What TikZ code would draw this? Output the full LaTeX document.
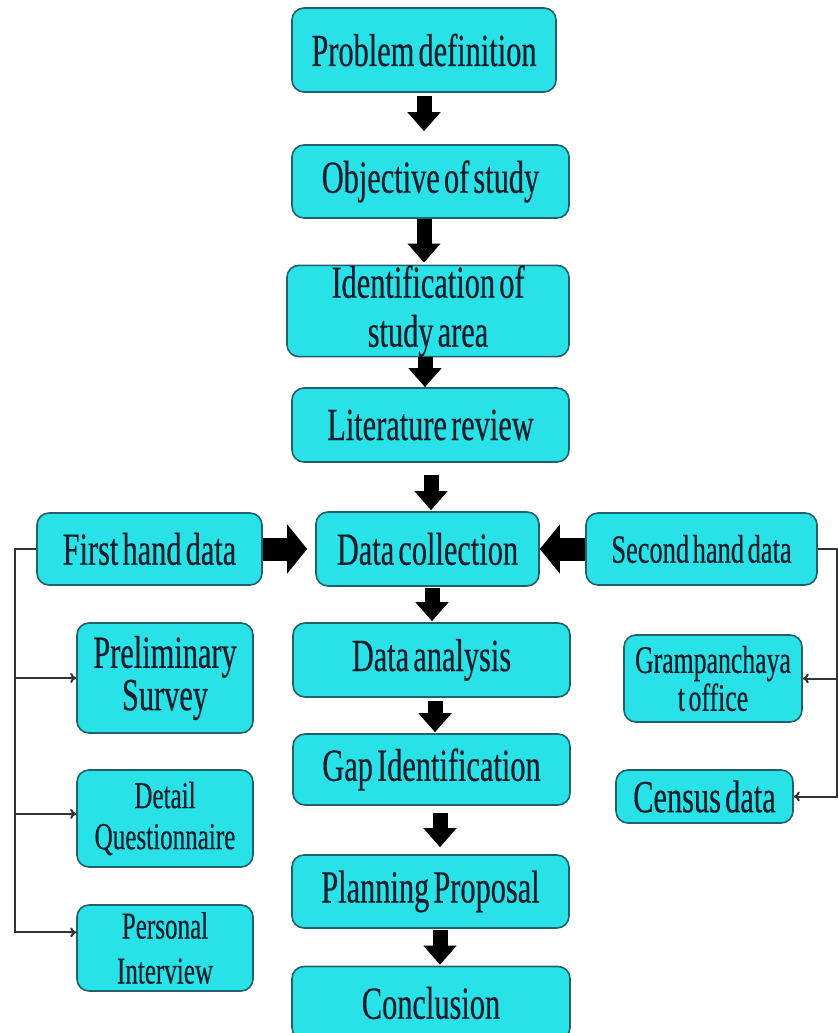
\documentclass[tikz,border=0pt]{standalone}
\usepackage{fontspec}
\setmainfont{Liberation Serif}[FakeStretch=0.66,WordSpace=0.55,FakeBold=0.4]
\usetikzlibrary{arrows.meta}
\definecolor{kfill}{RGB}{41,226,232}
\definecolor{kedge}{RGB}{36,96,108}
\definecolor{ktext}{RGB}{22,30,44}
\tikzset{
kbox/.style={draw=kedge,fill=kfill,line width=0.8pt,rounded corners=6pt,align=center,inner sep=0pt,text=ktext,font=\fontsize{23}{21}\selectfont},
kdown/.style={line width=7.5pt,-{Triangle[width=16pt,length=9.5pt]}},
kside/.style={line width=11.5pt,-{Triangle[width=24pt,length=10pt]}},
kthin/.style={line width=1pt,draw=black!80,-{To[length=3pt,width=5pt]}}
}
\begin{document}
\begin{tikzpicture}[x=0.5pt,y=-0.5pt]
\useasboundingbox(0,0)rectangle(838,1033);
\foreach \kn/\kx/\ky/\kw/\kh/\kt in {prob/424/50/132/42/{Problem definition},obj/430.5/181.5/138.5/36.5/{Objective of study},ident/428/311/141/41/{Identification of\\[3.5pt]study area},lit/430.5/425/138.5/37/{Literature review},dcol/427.5/549/111.5/37/{Data collection},dana/431.5/660/138.5/37/{Data analysis},gap/431.5/769.5/138.5/35.5/{Gap Identification},plan/430.5/891.5/138.5/36.5/{Planning Proposal},conc/431/1003/139/36.5/{Conclusion}}
{\node[kbox,minimum width=\kw pt,minimum height=\kh pt](\kn)at(\kx,\ky){\kt};}
\node[kbox,minimum width=112.5pt,minimum height=36pt](first)at(149.5,549){First hand data};
\node[kbox,minimum width=88pt,minimum height=55pt,font=\fontsize{23}{19.5}\selectfont](prelim)at(165,678){Preliminary\\Survey};
\node[kbox,minimum width=88pt,minimum height=48.5pt,font=\fontsize{19}{20.5}\selectfont](detail)at(165,818.5){Detail\\Questionnaire};
\node[kbox,minimum width=88pt,minimum height=43pt,font=\fontsize{19}{22.5}\selectfont](personal)at(165,948){Personal\\Interview};
\node[kbox,minimum width=115.5pt,minimum height=36pt,font=\fontsize{20}{20}\selectfont](second)at(701.5,549){Second hand data};
\node[kbox,minimum width=89pt,minimum height=43.5pt,font=\fontsize{19.5}{17.5}\selectfont](gram)at(713,678.5){Grampanchaya\\t office};
\node[kbox,minimum width=88.5pt,minimum height=26.5pt](census)at(704.5,796.5){Census data};
\foreach \ka/\kb/\kx/\ks/\ke in {prob/obj/424/1.5/6.5,obj/ident/424/0/1,ident/lit/425/0/0,lit/dcol/431/6/0.5,dcol/dana/432/0.5/0.5,dana/gap/435/1.5/0.5,gap/plan/440/3.5/3.5,plan/conc/440/0.5/0.5}
{\draw[kdown,shorten <=\ks pt,shorten >=\ke pt](\kx,0|-\ka.south)--(\kx,0|-\kb.north);}
\draw[kside,shorten >=4pt](first)--(dcol);
\draw[kside](second)--(dcol);
\coordinate(kl)at(15,549);
\coordinate(kr)at(837,549);
\draw[kthin](first.west)--(kl)|-(personal.170);
\foreach \kn/\kp in {prelim/west,detail/177}{\draw[kthin](kl|-\kn.\kp)--(\kn.\kp);}
\draw[kthin](second.east)--(kr)|-(census.east);
\draw[kthin](kr|-gram.east)--(gram.east);
\end{tikzpicture}
\end{document}
